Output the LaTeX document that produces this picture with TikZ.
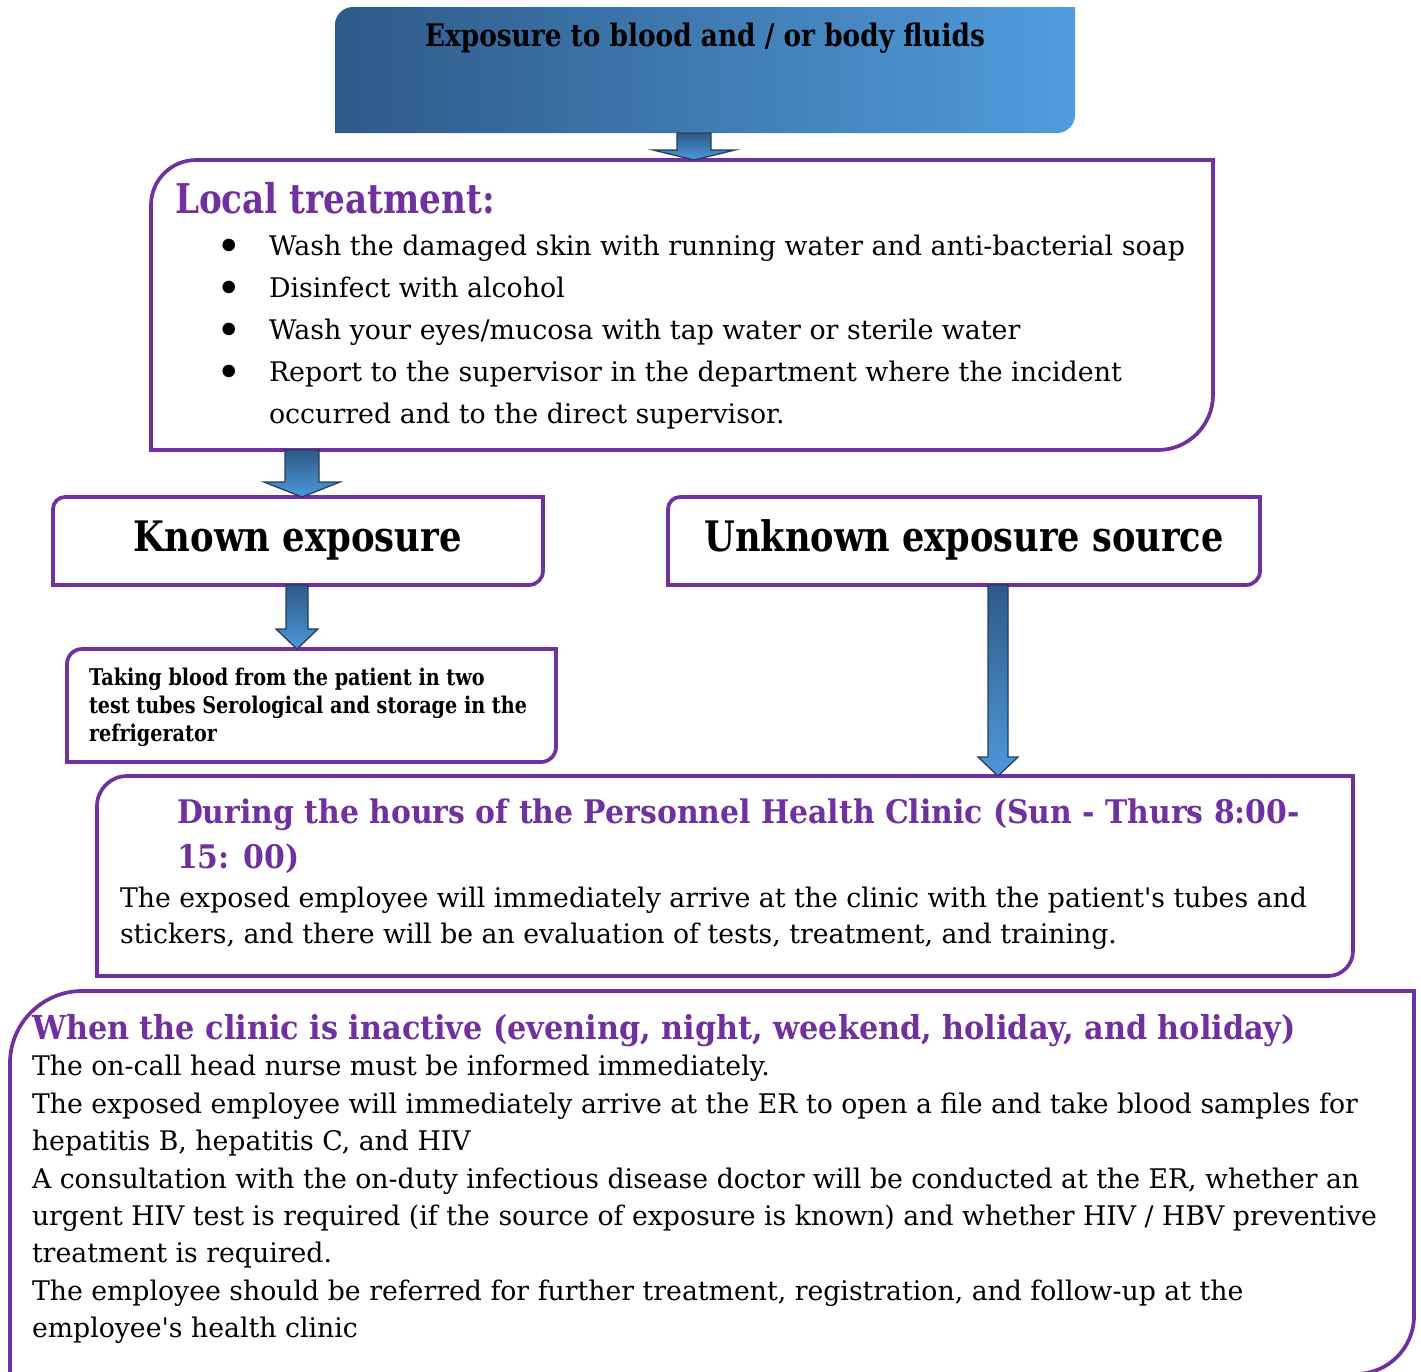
\documentclass[tikz,border=0pt]{standalone}
\usepackage{graphicx}
\usepackage{fontspec}
\setmainfont{DejaVu Serif}[Ligatures=TeXOff]
\usetikzlibrary{calc}
\definecolor{purp}{HTML}{7030A0}
\definecolor{bdark}{HTML}{2E5A88}
\definecolor{blight}{HTML}{519CDD}
\definecolor{adark}{HTML}{2D5A88}
\definecolor{alight}{HTML}{4F98DA}
\definecolor{aedge}{HTML}{223E5E}
\newsavebox\fitbin
\newlength\fitlen
\newcommand\fitbox[2]{\sbox\fitbin{#2}\setlength\fitlen{\wd\fitbin}\pgfmathsetmacro\fitfac{#1/\fitlen}\scalebox{\fitfac}[1]{\usebox\fitbin}}
\newcommand\lines[1]{\begin{tabular}{@{}l@{}}#1\end{tabular}}
\newcommand\bigbullet{\raisebox{-6.5pt}{\scalebox{1.6}{\textbullet}}}
% box outline with rounded top-left and bottom-right corners
\newcommand\cbox[4]{%
  \path[#4] (#1.south west) -- ($(#1.north west)+(0,#2)$)
    .. controls ($(#1.north west)+(0,0.45*#2)$) and ($(#1.north west)+(0.45*#2,0)$) .. ($(#1.north west)+(#2,0)$)
    -- (#1.north east) -- ($(#1.south east)+(0,-#3)$)
    .. controls ($(#1.south east)+(0,-0.45*#3)$) and ($(#1.south east)+(-0.45*#3,0)$) .. ($(#1.south east)+(-#3,0)$)
    -- cycle;}
% block arrow: #1 from, #2 to, #3 x, #4 shaft half, #5 head half, #6 head length
\newcommand\blockarrow[6]{%
  \path[barrow] let \p1=(#1), \p2=(#2) in
    ({(#3-#4)*1pt},\y1) -- ({(#3+#4)*1pt},\y1) -- ({(#3+#4)*1pt},{\y2+#6pt})
    -- ({(#3+#5)*1pt},{\y2+#6pt}) -- ({#3*1pt},\y2) -- ({(#3-#5)*1pt},{\y2+#6pt})
    -- ({(#3-#4)*1pt},{\y2+#6pt}) -- cycle;}
\tikzset{
  frame/.style={anchor=north west, inner sep=0pt, outer sep=0pt},
  pbox/.style={draw=purp, line width=3.7pt, fill=white},
  gbox/.style={left color=bdark, right color=blight},
  barrow/.style={top color=adark, bottom color=alight, draw=aedge, line width=1.3pt, line join=miter},
  txt/.style={inner sep=0pt, outer sep=0pt},
  body/.style={txt, anchor=north west, font=\fontsize{27}{#1}\selectfont},
  head/.style={txt, text=purp, font=\bfseries\fontsize{32.5}{#1}\selectfont},
}
\begin{document}
\begin{tikzpicture}[x=1pt,y=-1pt]
\useasboundingbox[fill=white] (0,0) rectangle (1421,1371);
% frames
\node[frame, minimum width=740pt, minimum height=126pt] (top) at (335,7) {};
\node[frame, minimum width=1062pt, minimum height=290pt] (local) at (151,160) {};
\node[frame, minimum width=490pt, minimum height=88pt] (known) at (53,497) {};
\node[frame, minimum width=592pt, minimum height=88pt] (unknown) at (668,497) {};
\node[frame, minimum width=489pt, minimum height=113pt] (taking) at (67,649) {};
\node[frame, minimum width=1256pt, minimum height=200pt] (during) at (97,776) {};
\node[frame, minimum width=1404pt, minimum height=383pt] (when) at (10,991) {};
\cbox{top}{18}{18}{gbox}
\cbox{local}{45}{55}{pbox}
\cbox{known}{12}{14}{pbox}
\cbox{unknown}{12}{14}{pbox}
\cbox{taking}{15}{15}{pbox}
\cbox{during}{30}{25}{pbox}
\cbox{when}{72}{58}{pbox}
% texts
\node[txt, anchor=base, font=\bfseries\fontsize{31}{36}\selectfont] (toptxt) at (705,46)
  {\fitbox{560}{Exposure to blood and / or body fluids}};
\node[txt, text=purp, anchor=base west, font=\bfseries\fontsize{41}{44}\selectfont] (localhead) at (175,213)
  {\fitbox{320}{Local treatment:}};
\node[body=42, anchor=north] (bullets) at (229,225.6)
  {\begin{tabular}{@{}c@{}}\bigbullet\\ \bigbullet\\ \bigbullet\\ \bigbullet\\ \end{tabular}};
\node[body=42] (items) at (269,225.6)
  {\fitbox{916}{\lines{Wash the damaged skin with running water and anti-bacterial soap\\
  Disinfect with alcohol\\
  Wash your eyes/mucosa with tap water or sterile water\\
  Report to the supervisor in the department where the incident\\
  occurred and to the direct supervisor.}}};
\node[txt, anchor=base, font=\bfseries\fontsize{42}{44}\selectfont] (knowntxt) at (298,551)
  {\fitbox{328}{Known exposure}};
\node[txt, anchor=base, font=\bfseries\fontsize{42}{44}\selectfont] (unknowntxt) at (964,551)
  {\fitbox{519}{Unknown exposure source}};
\node[txt, anchor=north west, font=\bfseries\fontsize{23}{28}\selectfont] (takingtxt) at (89,665.4)
  {\fitbox{438}{\lines{Taking blood from the patient in two\\
  test tubes Serological and storage in the\\
  refrigerator}}};
\node[head=45, anchor=north west] (duringhead) at (177,791.5)
  {\fitbox{1123}{\lines{During the hours of the Personnel Health Clinic (Sun - Thurs 8:00-\\
  15: 00)}}};
\node[body=36.5] (duringtxt) at (120,881.45)
  {\fitbox{1187}{\lines{The exposed employee will immediately arrive at the clinic with the patient's tubes and\\
  stickers, and there will be an evaluation of tests, treatment, and training.}}};
\node[head=40, anchor=base west, font=\bfseries\fontsize{33}{40}\selectfont] (whenhead) at (32,1039)
  {\fitbox{1264}{When the clinic is inactive (evening, night, weekend, holiday, and holiday)}};
\node[body=37.4] (whentxt) at (32,1049.8)
  {\fitbox{1345}{\lines{The on-call head nurse must be informed immediately.\\
  The exposed employee will immediately arrive at the ER to open a file and take blood samples for\\
  hepatitis B, hepatitis C, and HIV\\
  A consultation with the on-duty infectious disease doctor will be conducted at the ER, whether an\\
  urgent HIV test is required (if the source of exposure is known) and whether HIV / HBV preventive\\
  treatment is required.\\
  The employee should be referred for further treatment, registration, and follow-up at the\\
  employee's health clinic}}};
% arrows
\blockarrow{top.south}{local.north}{694}{17}{41}{10}
\blockarrow{local.south}{known.north}{302}{17}{38}{15}
\blockarrow{known.south}{taking.north}{297}{11}{21}{20}
\blockarrow{unknown.south}{during.north}{998}{10}{20}{19}
\end{tikzpicture}
\end{document}
